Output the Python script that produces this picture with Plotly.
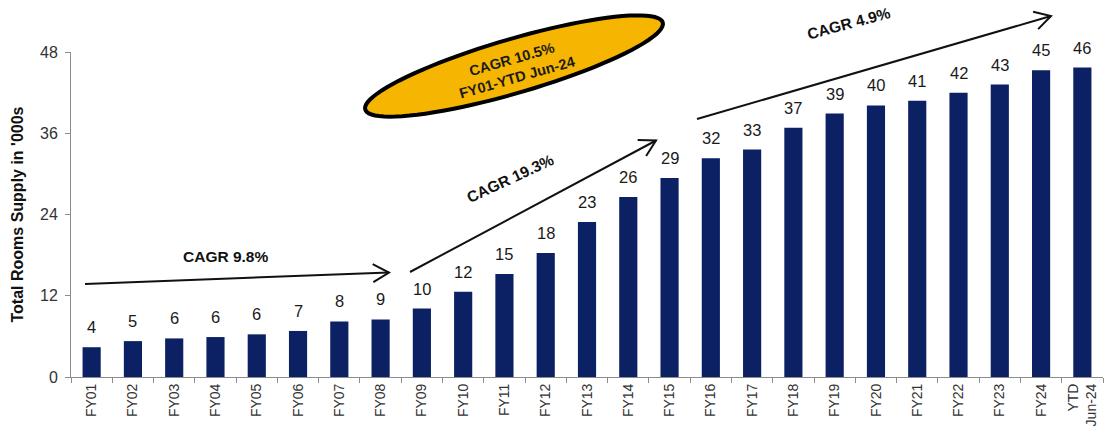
import numpy as np
import plotly.graph_objects as go

# ---------------- data ----------------
categories = ["FY01", "FY02", "FY03", "FY04", "FY05", "FY06", "FY07", "FY08", "FY09",
              "FY10", "FY11", "FY12", "FY13", "FY14", "FY15", "FY16", "FY17", "FY18",
              "FY19", "FY20", "FY21", "FY22", "FY23", "FY24", "YTD<br>Jun-24"]
rooms_supply = [4.4, 5.3, 5.7, 5.9, 6.3, 6.8, 8.2, 8.5, 10.1, 12.6, 15.2, 18.3, 22.9,
                26.6, 29.4, 32.3, 33.6, 36.8, 38.9, 40.1, 40.8, 42.0, 43.2, 45.3, 45.7]
value_labels = ["4", "5", "6", "6", "6", "7", "8", "9", "10", "12", "15", "18", "23",
                "26", "29", "32", "33", "37", "39", "40", "41", "42", "43", "45", "46"]
y_tick_values = [0, 12, 24, 36, 48]
y_title = "Total Rooms Supply in '000s"
cagr_texts = ["CAGR 9.8%", "CAGR 19.3%", "CAGR 4.9%"]
overall_cagr = "CAGR 10.5%<br>FY01-YTD Jun-24"

# ---------------- layout geometry (pixels) ----------------
W, H = 1109, 436
ML, MR, MT, MB = 71, 6, 52, 59
PW, PH = W - ML - MR, H - MT - MB


def px(x):
    return (x - ML) / PW


def py(y):
    return (H - MB - y) / PH


BAR_COLOR = "#0b2163"
AXIS_COLOR = "#8c8c8c"
FONT = "Liberation Sans, Arial, sans-serif"

fig = go.Figure()
fig.add_trace(go.Bar(
    x=categories, y=rooms_supply, marker=dict(color=BAR_COLOR, line=dict(width=0)),
    width=0.44, hoverinfo="x+y",
))

annotations = []
# value labels above bars
for c, v, t in zip(categories, rooms_supply, value_labels):
    annotations.append(dict(x=c, y=v, xref="x", yref="y", text=t, showarrow=False,
                            xanchor="center", yanchor="middle", yshift=20,
                            font=dict(family=FONT, size=16.5, color="#1a1a1a")))

shapes = []


def arrow(tail, tip, head_len=16, head_w=9):
    (x0, y0), (x1, y1) = tail, tip
    d = np.array([x1 - x0, y1 - y0], dtype=float)
    d /= np.hypot(*d)
    n = np.array([-d[1], d[0]])
    a = np.array([x1, y1]) - head_len * d + head_w * n
    b = np.array([x1, y1]) - head_len * d - head_w * n
    shapes.append(dict(type="line", xref="paper", yref="paper",
                       x0=px(x0), y0=py(y0), x1=px(x1), y1=py(y1),
                       line=dict(color="#111111", width=2)))
    shapes.append(dict(type="path", xref="paper", yref="paper",
                       path=f"M{px(a[0])},{py(a[1])} L{px(x1)},{py(y1)} L{px(b[0])},{py(b[1])}",
                       line=dict(color="#111111", width=2)))


arrow((85, 284), (389, 272.5))
arrow((410, 272), (656, 140.5))
arrow((697, 119), (1051, 16))

# rotated ellipse
cx, cy, ra, rb, th = 514, 66, 155, 27, np.deg2rad(16.3)
tt = np.linspace(0, 2 * np.pi, 90)
ex = cx + ra * np.cos(tt) * np.cos(th) - rb * np.sin(tt) * np.sin(th)
ey = cy - (ra * np.cos(tt) * np.sin(th) + rb * np.sin(tt) * np.cos(th))
path = "M" + " L".join(f"{px(a):.5f},{py(b):.5f}" for a, b in zip(ex, ey)) + " Z"
shapes.append(dict(type="path", xref="paper", yref="paper", path=path,
                   fillcolor="#f5b500", line=dict(color="#000000", width=4), layer="below"))

cagr_pos = [(225, 256.5, 0), (510, 178, -25), (848, 23, -15)]
for t, (x, y, ang) in zip(cagr_texts, cagr_pos):
    annotations.append(dict(x=px(x), y=py(y), xref="paper", yref="paper", text=t,
                            showarrow=False, textangle=ang, xanchor="center", yanchor="middle",
                            font=dict(family=FONT, size=15.5, color="#111111", weight="bold")))
annotations.append(dict(x=px(514), y=py(69), xref="paper", yref="paper", text=overall_cagr,
                        showarrow=False, textangle=-16, xanchor="center", yanchor="middle",
                        font=dict(family=FONT, size=14.5, color="#1a1a1a", weight="bold")))
# y-axis title
annotations.append(dict(x=px(17), y=0.5, xref="paper", yref="paper", text=y_title,
                        showarrow=False, textangle=-90, xanchor="center", yanchor="middle",
                        font=dict(family=FONT, size=16, color="#111111", weight="bold")))

fig.update_layout(
    width=W, height=H, margin=dict(l=ML, r=MR, t=MT, b=MB, autoexpand=False),
    paper_bgcolor="white", plot_bgcolor="rgba(0,0,0,0)", showlegend=False,
    bargap=0.56, shapes=shapes, annotations=annotations,
    font=dict(family=FONT, color="#333333"),
)
fig.update_xaxes(
    type="category", showline=True, linecolor=AXIS_COLOR, linewidth=1,
    ticks="outside", tickson="boundaries", ticklen=5, tickcolor=AXIS_COLOR,
    tickangle=-90, tickfont=dict(family=FONT, size=14, color="#333333"),
    showgrid=False, zeroline=False, automargin=False,
)
fig.update_yaxes(
    range=[0, 48], tickvals=y_tick_values, showline=True, linecolor=AXIS_COLOR,
    linewidth=1, ticks="outside", ticklen=5, tickcolor=AXIS_COLOR, ticklabelstandoff=4,
    tickfont=dict(family=FONT, size=16, color="#333333"), showgrid=False, zeroline=False,
    automargin=False,
)

fig.write_html("out.html", config={"displayModeBar": False},
               post_script="document.body.style.margin='0';")
